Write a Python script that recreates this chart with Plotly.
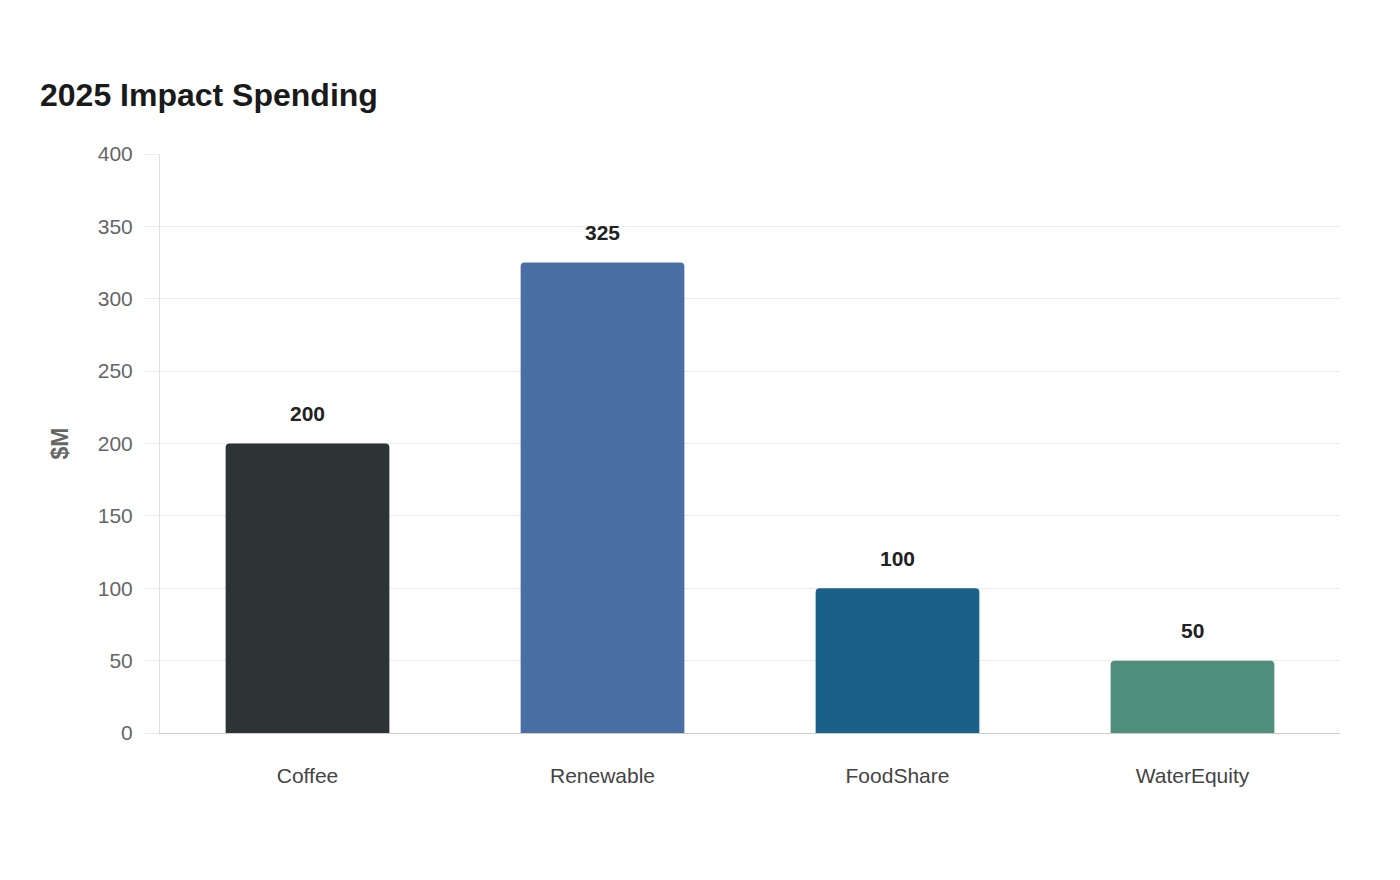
import plotly.graph_objects as go

categories = ["Coffee", "Renewable", "FoodShare", "WaterEquity"]
values = [200, 325, 100, 50]
colors = ["#2d3436", "#4a6fa5", "#1a6189", "#4e8f7b"]
y_ticks = [0, 50, 100, 150, 200, 250, 300, 350, 400]

font_family = "Liberation Sans, Arial, sans-serif"

fig = go.Figure()
fig.add_trace(go.Bar(
    x=categories,
    y=values,
    marker=dict(color=colors, line=dict(width=0)),
    hoverinfo="x+y",
    showlegend=False,
))

for c, v in zip(categories, values):
    fig.add_annotation(
        x=c, y=v, text=f"<b>{v}</b>", showarrow=False,
        yanchor="middle", yshift=30,
        font=dict(family=font_family, size=21, color="#222222"),
    )

fig.update_layout(
    width=1400, height=880,
    margin=dict(l=160, r=60, t=154, b=147),
    paper_bgcolor="white", plot_bgcolor="white",
    bargap=0.445,
    barcornerradius=4,
    font=dict(family=font_family),
    title=dict(
        text="<b>2025 Impact Spending</b>",
        x=40 / 1400, xanchor="left", xref="container",
        y=1 - 95 / 880, yanchor="middle", yref="container",
        font=dict(family=font_family, size=32, color="#1a1a1a"),
    ),
    xaxis=dict(
        showgrid=False,
        showline=True, linecolor="#cccccc", linewidth=1,
        ticks="", tickfont=dict(family=font_family, size=21, color="#444444"),
        ticklabelstandoff=24,
    ),
    yaxis=dict(
        range=[0, 400],
        tickvals=y_ticks,
        showgrid=True, gridcolor="#ebebeb", gridwidth=1,
        showline=True, linecolor="#e0e0e0", linewidth=1,
        ticks="outside", ticklen=15, tickcolor="#ebebeb",
        tickfont=dict(family=font_family, size=21, color="#666666"),
        ticklabelstandoff=7,
        zeroline=False,
        title=dict(text="<b>$M</b>", font=dict(family=font_family, size=23, color="#666666"), standoff=22),
    ),
)

fig.write_html("out.html")
